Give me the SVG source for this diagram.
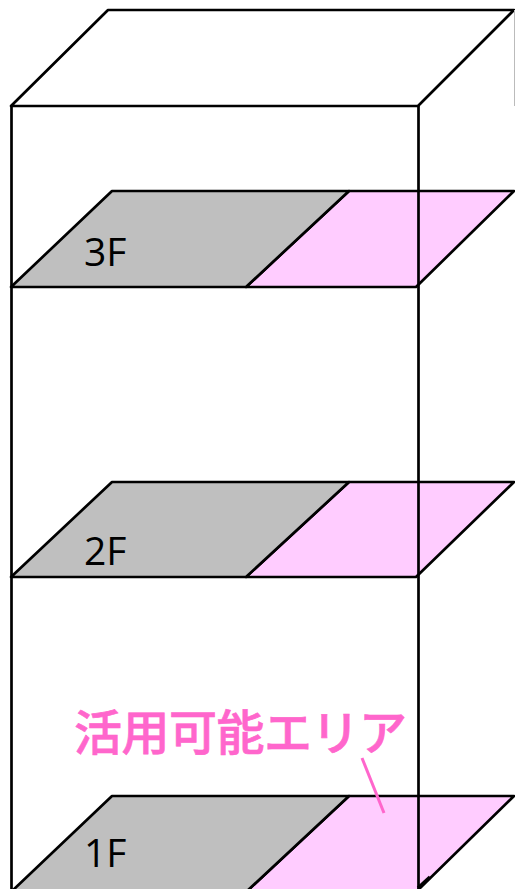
<svg xmlns="http://www.w3.org/2000/svg" width="515" height="889" viewBox="0 0 515 889">
<style>
.ln{fill:none;stroke:#000;stroke-width:2.7;stroke-linejoin:round}
.gray{fill:#bfbfbf;stroke:#000;stroke-width:2.7;stroke-linejoin:round}
.pink{fill:#ffccff;stroke:#000;stroke-width:2.7;stroke-linejoin:round}
.fl{font-family:"Open Sans","Noto Sans",sans-serif;font-size:39px;fill:#000}
</style>
<rect width="515" height="889" fill="#fff"/>
<g id="floor-1">
<polygon class="pink" points="349,796 514,796 416,892 246,892"/>
<polygon class="gray" points="112,796 349,796 246,892 11,892"/>
<text class="fl" x="84" y="867">1F</text>
</g>
<g id="floor-2">
<polygon class="pink" points="349,482 514,482 416,577 246,577"/>
<polygon class="gray" points="112,482 349,482 246,577 11,577"/>
<text class="fl" x="84" y="565">2F</text>
</g>
<g id="floor-3">
<polygon class="pink" points="349,191 514,191 416,287 246,287"/>
<polygon class="gray" points="112,191 349,191 246,287 11,287"/>
<text class="fl" x="84" y="266">3F</text>
</g>
<g id="building" class="connectors">
<polygon class="ln" points="11,106 108,10 514,10 418,106"/>
<path class="ln" d="M11.500,106V889M418.500,106V889"/>
<path d="M514.500,10V106" fill="none" stroke="#bbb" stroke-width="1"/>
<path d="M418,888L430,877" fill="none" stroke="#000" stroke-width="3.500"/>
</g>
<g id="label-area">
<path d="M362,758L384,813" fill="none" stroke="#ff66cc" stroke-width="3"/>
<text x="74" y="750" font-family="'Noto Sans CJK JP',sans-serif" font-size="48" font-weight="500" fill="#ff66cc" stroke="#ff66cc" stroke-width="0.6" textLength="333" lengthAdjust="spacing">活用可能エリア</text>
</g>
</svg>
